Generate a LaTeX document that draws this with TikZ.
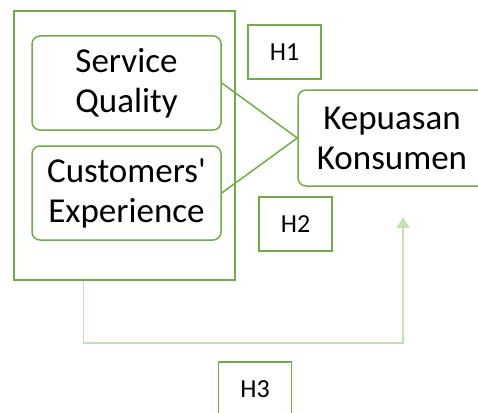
\documentclass[tikz,border=0pt]{standalone}
\usepackage{fontspec}
\setmainfont{Carlito}
\usetikzlibrary{arrows.meta,positioning}
\definecolor{leaf}{HTML}{70AD47}
\definecolor{paleleaf}{HTML}{C5E0B4}

\begin{document}
\begin{tikzpicture}[x=1pt,y=-1pt,
	var/.style={draw=leaf,line width=1.5pt,rounded corners=8pt,align=center,
		inner sep=0pt,font=\fontsize{35}{40}\selectfont},
	hyp/.style={draw=leaf,line width=1.5pt,minimum width=73pt,minimum height=54pt,
		inner sep=0pt,font=\fontsize{26}{30}\selectfont}]
	 \useasboundingbox (0,0) rectangle (478,412);

	 \node at (124.5,145.5) [draw=leaf,line width=1.5pt,minimum width=221pt,minimum height=269pt] (frame) {};
	 \node at (126.5,83) [var,minimum width=189pt,minimum height=94pt] (SQ) {Service\\Quality};
	 \node at (126.5,193) [var,minimum width=189pt,minimum height=94pt] (CE) {Customers\textquotesingle\\Experience};
	 \node at (392,138) [var,minimum width=188pt,minimum height=96pt] (KK) {Kepuasan\\Konsumen};

	 \node at (284.5,52) [hyp] (H1) {H1};
	 \node at (295.5,224) [hyp] (H2) {H2};
	 \node at (255,389) [hyp] (H3) {H3};

	 \coordinate (h3end) at (403,217);

	 \draw[leaf,line width=1.5pt] (SQ.east) -- (KK.west);
	 \draw[leaf,line width=1.5pt] (CE.east) -- (KK.west);
	 \draw[paleleaf,line width=1.5pt,-{Triangle[length=11pt,width=13pt]}]
	   ([xshift=70pt]frame.south west) -- ++(0,62) -| (h3end);

\end{tikzpicture}
\end{document}
